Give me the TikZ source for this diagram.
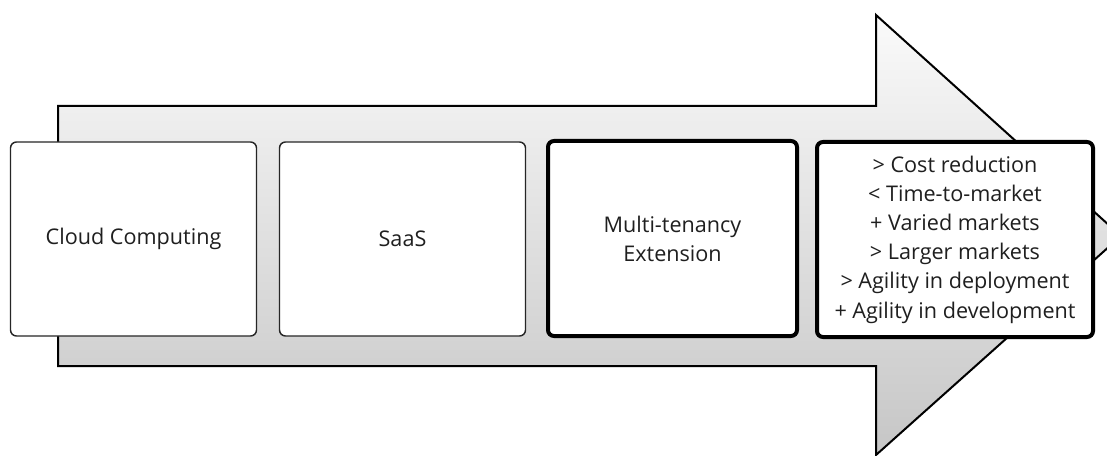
\documentclass[tikz,border=0pt]{standalone}
\usepackage{fontspec}
\setmainfont{Open Sans}
\begin{document}
\begin{tikzpicture}[x=0.75pt,y=-0.75pt,
  flow/.style={draw=black,line width=1.5pt,line join=miter,top color=arrowtop,bottom color=arrowbot},
  stage/.style={draw=black!85,line width=1.1pt,fill=white,rounded corners=4.5pt,
    minimum width=246*0.75pt,minimum height=194*0.75pt,align=center,inner sep=0pt,
    font=\fontsize{16.2pt}{21.9pt}\selectfont,text=black!88},
  keystage/.style={stage,draw=black,line width=3pt,minimum width=249*0.75pt,minimum height=195*0.75pt}]
\definecolor{arrowtop}{HTML}{FAFAFA}
\definecolor{arrowbot}{HTML}{C6C6C6}
\useasboundingbox (0,0) rectangle (1107,456);
\clip (0,0) rectangle (1107,456);
% the big process arrow
\draw[flow] (58,106) -- (876,106) -- (876,15) -- (1121,236) -- (876,455) -- (876,366) -- (58,366) -- cycle;
% stages along the arrow
\node[stage] (cloud) at (133.5,239) {Cloud Computing};
\node[stage] (saas) at (402.5,239) {SaaS};
\node[keystage] (mt) at (672.5,238.5) {Multi-tenancy\\Extension};
\node[keystage,minimum width=276*0.75pt] (gain) at (955,239.5) {> Cost reduction\\< Time-to-market\\+ Varied markets\\> Larger markets\\> Agility in deployment\\+ Agility in development};
\end{tikzpicture}
\end{document}
